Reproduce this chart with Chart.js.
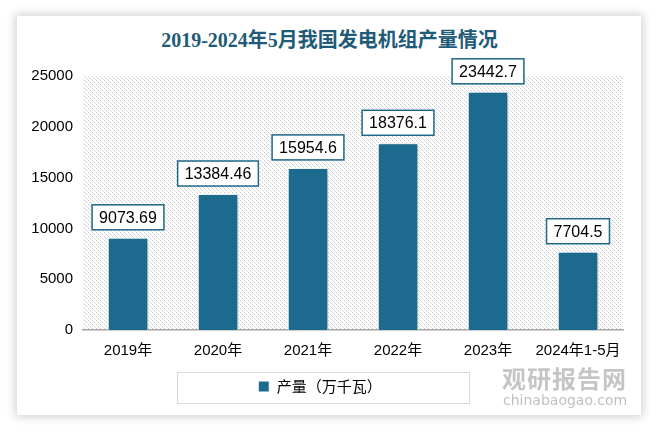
<!DOCTYPE html>
<html>
<head>
<meta charset="utf-8">
<script src="https://cdn.jsdelivr.net/npm/chart.js@4"></script>
<style>
html,body{margin:0;padding:0;background:#ffffff;width:659px;height:432px;overflow:hidden;}
#card{position:absolute;left:17px;top:16px;width:624px;height:399px;background:#fff;box-shadow:0 0 9px 2px rgba(0,0,0,0.18);}
#wrap{position:absolute;left:0;top:0;width:659px;height:432px;}
#title{position:absolute;left:0;top:27px;width:659px;text-align:center;font:bold 20px "Liberation Serif","Noto Sans CJK SC";color:#1f5b78;line-height:26px;}
#wm1{position:absolute;left:502px;top:360px;font:bold 24px "Noto Sans CJK SC";color:rgba(150,150,150,0.55);letter-spacing:1px;}
#wm2{position:absolute;left:503px;top:392px;font:14px "DejaVu Sans";color:rgba(150,150,150,0.6);}
</style>
</head>
<body>
<div id="card"></div>
<div id="title"></div>
<div id="wrap"><canvas id="c" width="659" height="432"></canvas></div>
<div id="wm1">观研报告网</div>
<div id="wm2">chinabaogao.com</div>
<script>
const categories = ["2019年","2020年","2021年","2022年","2023年","2024年1-5月"];
const production = [9073.69, 13384.46, 15954.6, 18376.1, 23442.7, 7704.5];
const seriesName = "产量（万千瓦）";
const titleText = "2019-2024年5月我国发电机组产量情况";
const yTicks = [0, 5000, 10000, 15000, 20000, 25000];

document.getElementById('title').textContent = titleText;

const barColor = "#1c6b8e";

function makePattern(ctx){
  const p = document.createElement('canvas');
  p.width = 4; p.height = 4;
  const g = p.getContext('2d');
  g.fillStyle = '#ffffff'; g.fillRect(0,0,4,4);
  g.fillStyle = '#c9c9c9';
  g.fillRect(0,0,1,1); g.fillRect(2,2,1,1);
  g.fillStyle = '#e6e6e6';
  g.fillRect(1,1,1,1); g.fillRect(3,3,1,1);
  return ctx.createPattern(p,'repeat');
}

const bgPlugin = {
  id:'bgHatch',
  beforeDraw(chart){
    const {ctx, chartArea:a} = chart;
    ctx.save();
    ctx.fillStyle = makePattern(ctx);
    ctx.fillRect(a.left, a.top, a.right-a.left, a.bottom-a.top);
    ctx.restore();
  }
};

const shadowPlugin = {
  id:'barShadow',
  beforeDatasetDraw(chart){
    const ctx = chart.ctx;
    ctx.save();
    ctx.shadowColor = 'rgba(0,0,0,0.28)';
    ctx.shadowBlur = 5;
    ctx.shadowOffsetX = 3;
    ctx.shadowOffsetY = 1;
  },
  afterDatasetDraw(chart){
    chart.ctx.restore();
  }
};

const labelPlugin = {
  id:'valueBoxes',
  afterDatasetsDraw(chart){
    const ctx = chart.ctx;
    const meta = chart.getDatasetMeta(0);
    ctx.save();
    ctx.font = '16px "Liberation Sans", sans-serif';
    ctx.textAlign = 'center';
    ctx.textBaseline = 'middle';
    meta.data.forEach((bar, i) => {
      const txt = String(chart.data.datasets[0].data[i]);
      const w = ctx.measureText(txt).width + 14;
      const h = 25;
      const bottom = bar.y - 8;
      const x = bar.x - w/2;
      ctx.fillStyle = '#ffffff';
      ctx.fillRect(x, bottom - h, w, h);
      ctx.strokeStyle = '#1f6787';
      ctx.lineWidth = 1.5;
      ctx.strokeRect(x, bottom - h, w, h);
      ctx.fillStyle = '#000000';
      ctx.fillText(txt, bar.x, bottom - h/2 + 1);
    });
    ctx.restore();
  }
};

const legendBoxPlugin = {
  id:'legendBorder',
  afterDraw(chart){
    const ctx = chart.ctx;
    ctx.save();
    ctx.strokeStyle = '#d9d9d9';
    ctx.lineWidth = 1;
    ctx.strokeRect(177.5, 372.5, 292, 31);
    ctx.restore();
  }
};

new Chart(document.getElementById('c'), {
  type:'bar',
  data:{
    labels: categories,
    datasets:[{
      label: seriesName,
      data: production,
      backgroundColor: barColor,
      borderColor: '#ffffff',
      borderWidth: 1,
      barPercentage: 0.45,
      categoryPercentage: 1
    }]
  },
  options:{
    responsive:false,
    animation:false,
    devicePixelRatio:1,
    layout:{padding:{left:17,right:36,top:76,bottom:28}},
    plugins:{
      title:{display:false},
      legend:{
        display:true,
        position:'bottom',
        labels:{
          color:'#000',
          font:{family:'"Noto Sans CJK SC"',size:15},
          boxWidth:11, boxHeight:11,
          padding:7
        }
      },
      tooltip:{enabled:false}
    },
    scales:{
      x:{
        grid:{display:false, drawTicks:false},
        border:{display:true,color:'#a6a6a6',width:1.5},
        ticks:{color:'#000',font:{family:'"Liberation Sans","Noto Sans CJK SC"',size:15},padding:12,maxRotation:0,autoSkip:false}
      },
      y:{
        min:0,max:25000,
        afterBuildTicks(scale){ scale.ticks = yTicks.map(v=>({value:v})); },
        afterFit(scale){ scale.width = 66; },
        grid:{display:false, drawTicks:false},
        border:{display:false},
        ticks:{color:'#000',font:{family:'"Liberation Sans"',size:15},padding:10,callback:(v)=>String(v)}
      }
    }
  },
  plugins:[bgPlugin, shadowPlugin, labelPlugin, legendBoxPlugin]
});
</script>
</body>
</html>
